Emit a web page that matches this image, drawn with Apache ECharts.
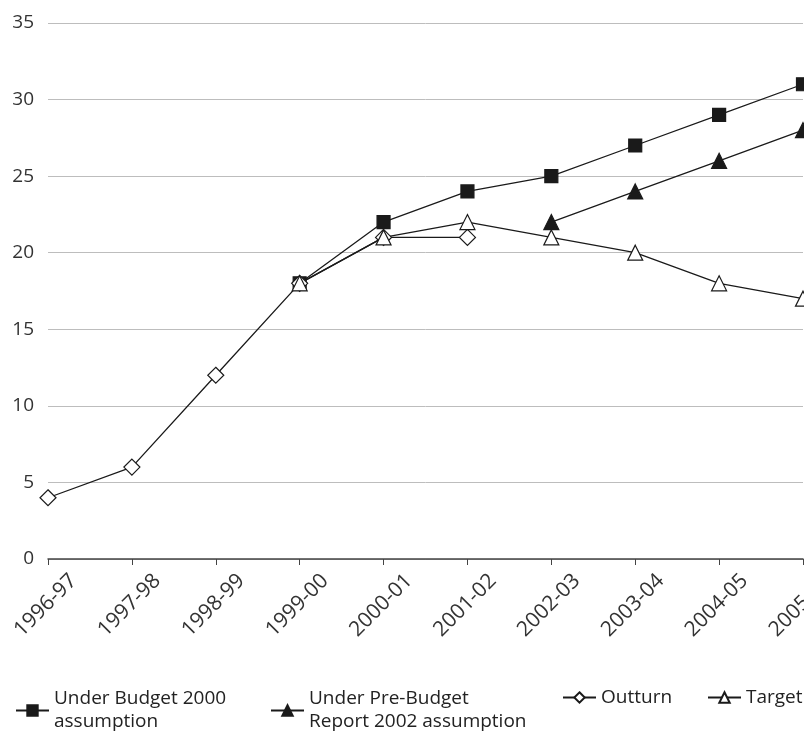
<!DOCTYPE html>
<html>
<head>
<meta charset="utf-8">
<script src="https://cdn.jsdelivr.net/npm/echarts@6/dist/echarts.min.js"></script>
<style>
  html, body { margin: 0; padding: 0; background: #fff; }
  #chart { width: 804px; height: 731px; }
</style>
</head>
<body>
<div id="chart"></div>
<script>
// Financial years on the category axis
const years = ['1996-97', '1997-98', '1998-99', '1999-00', '2000-01',
               '2001-02', '2002-03', '2003-04', '2004-05', '2005-06'];

// Series values (null where a series has no point)
const budget2000 = [null, null, null, 18, 22, 24, 25, 27, 29, 31];
const preBudget2002 = [null, null, null, null, null, null, 22, 24, 26, 28];
const outturn = [4, 6, 12, 18, 21, 21, null, null, null, null];
const target = [null, null, null, 18, 21, 22, 21, 20, 18, 17];

const seriesNames = [
  'Under Budget 2000\nassumption',
  'Under Pre-Budget\nReport 2002 assumption',
  'Outturn',
  'Target'
];

const FONT = 'Open Sans';
const LEGEND_LH = 23;
const chart = echarts.init(document.getElementById('chart'));

function lineSeries(name, data, symbol, size, filled) {
  return {
    name: name,
    type: 'line',
    data: data,
    symbol: symbol,
    symbolSize: size,
    showAllSymbol: true,
    connectNulls: false,
    lineStyle: { color: '#1a1a1a', width: 1.3 },
    itemStyle: {
      color: filled ? '#1a1a1a' : '#ffffff',
      borderColor: '#1a1a1a',
      borderWidth: 1.2
    },
    emphasis: { disabled: true },
    animation: false
  };
}

// One legend block per series so each can sit at its own x position.
// Two-line names get top padding so the icon lines up with the first line.
function legendAt(name, left, twoLines) {
  return {
    data: [name],
    left: left,
    top: twoLines ? 676 : 686,
    padding: 0,
    orient: 'horizontal',
    itemWidth: 33,
    itemHeight: 13,
    itemGap: 0,
    textStyle: {
      fontFamily: FONT,
      fontSize: 19,
      color: '#222',
      lineHeight: LEGEND_LH,
      padding: [twoLines ? LEGEND_LH : 0, 0, 0, 0]
    },
    selectedMode: false
  };
}

chart.setOption({
  backgroundColor: '#fff',
  textStyle: { fontFamily: FONT },
  grid: {
    left: 48, right: 1, top: 23, bottom: 172,
    containLabel: false,
    outerBoundsMode: 'none'
  },
  legend: [
    legendAt(seriesNames[0], 15, true),
    legendAt(seriesNames[1], 270, true),
    legendAt(seriesNames[2], 562, false),
    legendAt(seriesNames[3], 707, false)
  ],
  xAxis: {
    type: 'category',
    data: years,
    boundaryGap: false,
    axisLine: { lineStyle: { color: '#444', width: 1.5 } },
    axisTick: { show: true, alignWithLabel: true, length: 6, lineStyle: { color: '#444' } },
    axisLabel: {
      rotate: 45,
      interval: 0,
      margin: -7,
      verticalAlign: 'top',
      lineHeight: 22,
      padding: [25, 0, 0, 0],
      hideOverlap: false,
      fontFamily: FONT,
      fontSize: 21,
      color: '#333'
    },
    splitLine: { show: false }
  },
  yAxis: {
    type: 'value',
    min: 0,
    max: 35,
    interval: 5,
    axisLine: { show: false },
    axisTick: { show: false },
    axisLabel: { margin: 14, fontFamily: FONT, fontSize: 19, color: '#333' },
    splitLine: { lineStyle: { color: '#bdbdbd', width: 1 } }
  },
  series: [
    lineSeries(seriesNames[0], budget2000, 'rect', 13, true),
    lineSeries(seriesNames[1], preBudget2002, 'triangle', 15, true),
    lineSeries(seriesNames[2], outturn, 'diamond', 16, false),
    lineSeries(seriesNames[3], target, 'triangle', 15, false)
  ]
});
</script>
</body>
</html>
